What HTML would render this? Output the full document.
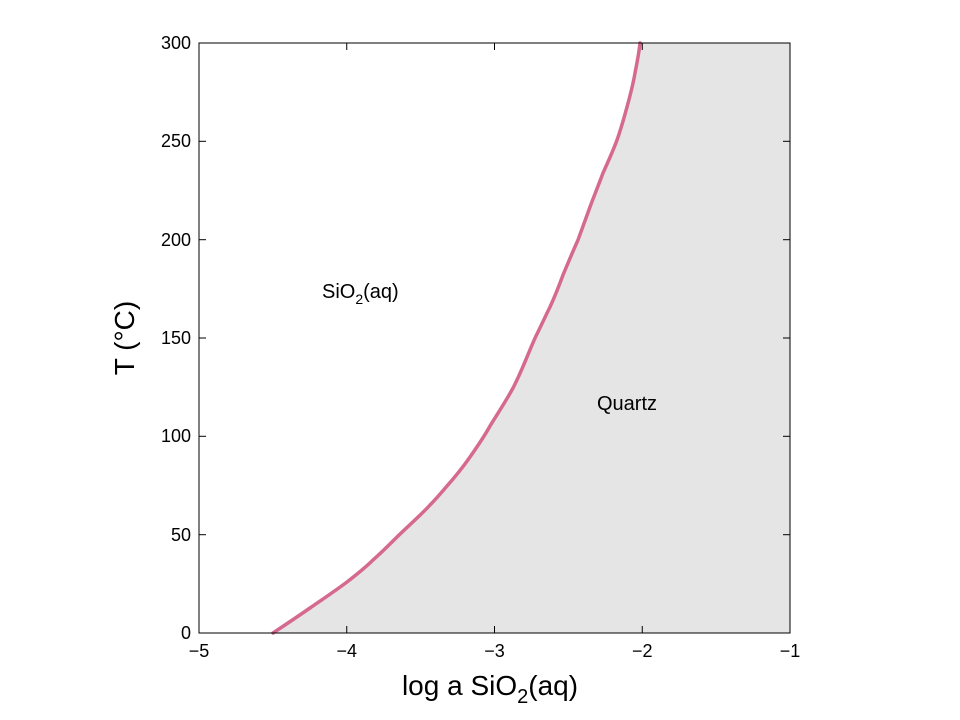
<!DOCTYPE html>
<html><head><meta charset="utf-8"><style>body{margin:0;background:#fff}svg{display:block}</style></head><body>
<svg width="960" height="720" xmlns="http://www.w3.org/2000/svg" font-family="Liberation Sans, Arial, sans-serif">
<rect width="960" height="720" fill="#fff"/>
<path id="c" d="M273,633 C285,625 297,617 310,608 C323,599 335,591 347,582 C356,575 365,568 373,560 C381,553 389,545 397,537 C405,529 422,514 430,505 C436,499 441,493 447,486 C455,477 463,467 470,457 C477,447 484,437 490,426 C498,413 506,401 513,388 C522,371 529,351 536,336 C541,326 545,317 550,307 C555,296 559,286 563,275 C568,263 573,251 578,240 C582,229 586,218 590,207 C594,196 599,184 603,173 C608,162 613,151 617,140 C621,129 624,118 627,107 C630,96 633,85 635,73 C637,63 639,53 640,43 L790,43 L790,633 Z" fill="#e5e5e5"/>
<path d="M273,633 C285,625 297,617 310,608 C323,599 335,591 347,582 C356,575 365,568 373,560 C381,553 389,545 397,537 C405,529 422,514 430,505 C436,499 441,493 447,486 C455,477 463,467 470,457 C477,447 484,437 490,426 C498,413 506,401 513,388 C522,371 529,351 536,336 C541,326 545,317 550,307 C555,296 559,286 563,275 C568,263 573,251 578,240 C582,229 586,218 590,207 C594,196 599,184 603,173 C608,162 613,151 617,140 C621,129 624,118 627,107 C630,96 633,85 635,73 C637,63 639,53 640,43" fill="none" stroke="#d6698f" stroke-width="3.5" stroke-linecap="round"/>
<rect x="199" y="43" width="591" height="590" fill="none" stroke="#000" stroke-width="1"/>
<g stroke="#000" stroke-width="1">
<line x1="199" y1="633" x2="199" y2="626"/><line x1="346.75" y1="633" x2="346.75" y2="626"/><line x1="494.5" y1="633" x2="494.5" y2="626"/><line x1="642.25" y1="633" x2="642.25" y2="626"/><line x1="790" y1="633" x2="790" y2="626"/>
<line x1="199" y1="43" x2="199" y2="50"/><line x1="346.75" y1="43" x2="346.75" y2="50"/><line x1="494.5" y1="43" x2="494.5" y2="50"/><line x1="642.25" y1="43" x2="642.25" y2="50"/><line x1="790" y1="43" x2="790" y2="50"/>
<line x1="199" y1="633" x2="206" y2="633"/><line x1="199" y1="534.7" x2="206" y2="534.7"/><line x1="199" y1="436.3" x2="206" y2="436.3"/><line x1="199" y1="338" x2="206" y2="338"/><line x1="199" y1="239.7" x2="206" y2="239.7"/><line x1="199" y1="141.3" x2="206" y2="141.3"/><line x1="199" y1="43" x2="206" y2="43"/>
<line x1="790" y1="633" x2="783" y2="633"/><line x1="790" y1="534.7" x2="783" y2="534.7"/><line x1="790" y1="436.3" x2="783" y2="436.3"/><line x1="790" y1="338" x2="783" y2="338"/><line x1="790" y1="239.7" x2="783" y2="239.7"/><line x1="790" y1="141.3" x2="783" y2="141.3"/><line x1="790" y1="43" x2="783" y2="43"/>
</g>
<g font-size="18" text-anchor="middle">
<text x="199" y="657">−5</text><text x="346.75" y="657">−4</text><text x="494.5" y="657">−3</text><text x="642.25" y="657">−2</text><text x="790" y="657">−1</text>
</g>
<g font-size="18" text-anchor="end">
<text x="191" y="639">0</text><text x="191" y="541">50</text><text x="191" y="442">100</text><text x="191" y="344">150</text><text x="191" y="246">200</text><text x="191" y="147">250</text><text x="191" y="49">300</text>
</g>
<text x="490" y="695" font-size="28" text-anchor="middle">log a SiO<tspan font-size="20" dy="8">2</tspan><tspan dy="-8">(aq)</tspan></text>
<text transform="translate(134,338) rotate(-90)" font-size="28" text-anchor="middle">T (°C)</text>
<text x="322" y="298" font-size="20">SiO<tspan font-size="14" dy="6">2</tspan><tspan dy="-6">(aq)</tspan></text>
<text x="597" y="410" font-size="20">Quartz</text>
</svg>
</body></html>
